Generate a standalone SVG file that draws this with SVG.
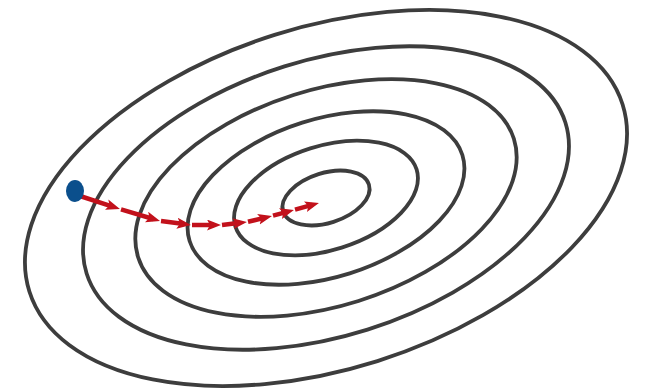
<svg xmlns="http://www.w3.org/2000/svg" width="645" height="389" viewBox="0 0 645 389">
  <style>
    .contour { fill: none; stroke: #3d3d3d; stroke-width: 3.8; }
    .step { stroke: #c2111b; stroke-width: 4.5; fill: none; }
  </style>
  <defs>
    <marker id="ah" markerUnits="userSpaceOnUse" markerWidth="16" markerHeight="12" refX="7" refY="5.5" orient="auto">
      <path d="M0,0 L14,5.5 L0,11 L3,5.5 Z" fill="#c2111b"/>
    </marker>
  </defs>
  <rect width="645" height="389" fill="#ffffff"/>
  <g id="contours" transform="translate(326,198) rotate(-17.5)">
    <g id="contour1"><ellipse class="contour" cx="0" cy="0" rx="311" ry="171"/></g>
    <g id="contour2"><ellipse class="contour" cx="0" cy="0" rx="251" ry="138"/></g>
    <g id="contour3"><ellipse class="contour" cx="0" cy="0" rx="197" ry="108"/></g>
    <g id="contour4"><ellipse class="contour" cx="0" cy="0" rx="143" ry="79"/></g>
    <g id="contour5"><ellipse class="contour" cx="0" cy="0" rx="95" ry="52"/></g>
    <g id="contour6"><ellipse class="contour" cx="0" cy="0" rx="45" ry="25"/></g>
  </g>
  <g id="connectors">
    <line class="step" x1="80" y1="196" x2="113.3" y2="206.8" marker-end="url(#ah)"/>
    <line class="step" x1="121" y1="209.3" x2="153.3" y2="219" marker-end="url(#ah)"/>
    <line class="step" x1="161" y1="221.1" x2="184" y2="224.1" marker-end="url(#ah)"/>
    <line class="step" x1="192" y1="225" x2="214" y2="225" marker-end="url(#ah)"/>
    <line class="step" x1="222" y1="224.9" x2="240" y2="222.8" marker-end="url(#ah)"/>
    <line class="step" x1="248" y1="221.8" x2="265.2" y2="217.6" marker-end="url(#ah)"/>
    <line class="step" x1="273" y1="215.7" x2="287.2" y2="211.8" marker-end="url(#ah)"/>
    <line class="step" x1="295" y1="209.7" x2="312.2" y2="204.9" marker-end="url(#ah)"/>
  </g>
  <g id="start">
    <ellipse cx="75" cy="191" rx="9" ry="11" fill="#0b4f8c"/>
  </g>
</svg>
